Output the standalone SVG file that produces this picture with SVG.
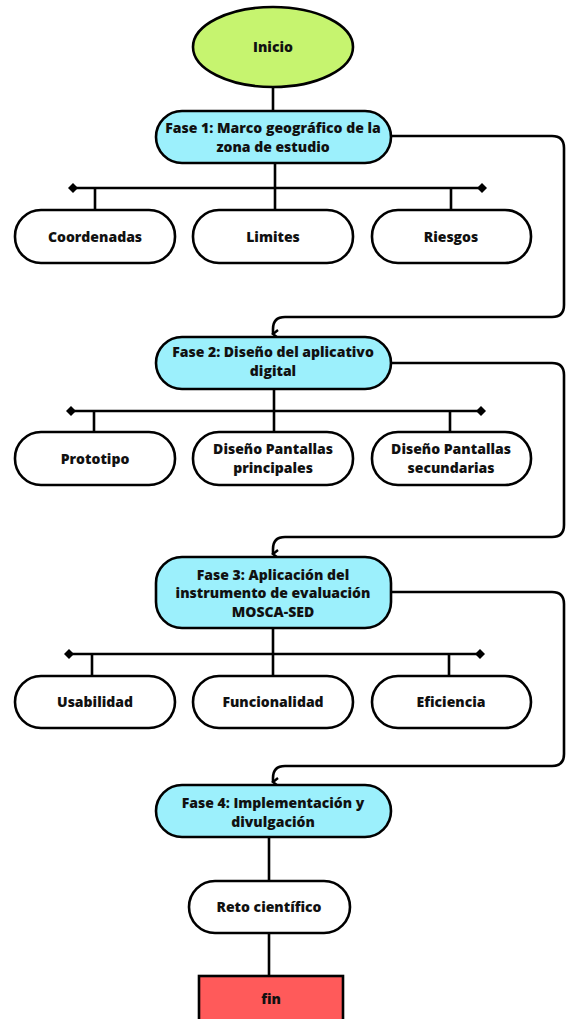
<svg xmlns="http://www.w3.org/2000/svg" width="566" height="1019" viewBox="0 0 566 1019">
<style>
.n{stroke:#000;stroke-width:2.6}
.w{fill:#fff}
.c{fill:#9cf0fc}
.t{font-family:"Open Sans","Liberation Sans",sans-serif;font-weight:800;font-size:14px;fill:#111;text-anchor:middle}
.l{fill:none;stroke:#000;stroke-width:2.6}
</style>
<defs>
<marker id="ar" viewBox="0 0 10 10" refX="5" refY="8" markerWidth="10" markerHeight="10" markerUnits="userSpaceOnUse" orient="auto-start-reverse">
<path d="M1,3 L5,8 L9,3" fill="none" stroke="#000" stroke-width="2.4"/>
</marker>
<marker id="dm" viewBox="0 0 12 12" refX="6" refY="6" markerWidth="12" markerHeight="12" markerUnits="userSpaceOnUse">
<path d="M6,1 L11,6 L6,11 L1,6 Z" fill="#000"/>
</marker>
</defs>
<rect width="566" height="1019" fill="#fff"/>
<g id="connectors">
<path class="l" d="M273,87 V111"/>
<path class="l" d="M275,163 V210"/>
<path class="l" d="M73,188 H482" marker-start="url(#dm)" marker-end="url(#dm)"/>
<path class="l" d="M95,188 V210 M451,188 V210"/>
<path class="l" d="M391,136 H552 Q564,136 564,148 V305 Q564,317 552,317 H285 Q273,317 273,329 V334" marker-end="url(#ar)"/>
<path class="l" d="M274,389 V432"/>
<path class="l" d="M71,411 H481" marker-start="url(#dm)" marker-end="url(#dm)"/>
<path class="l" d="M94,411 V432 M450,411 V432"/>
<path class="l" d="M391,363 H552 Q564,363 564,375 V525 Q564,537 552,537 H285 Q273,537 273,549 V554" marker-end="url(#ar)"/>
<path class="l" d="M273,628 V676"/>
<path class="l" d="M69,654 H480" marker-start="url(#dm)" marker-end="url(#dm)"/>
<path class="l" d="M92,654 V676 M449,654 V676"/>
<path class="l" d="M391,592 H552 Q564,592 564,604 V754 Q564,766 552,766 H285 Q273,766 273,778 V782" marker-end="url(#ar)"/>
<path class="l" d="M269,837 V881"/>
<path class="l" d="M269,933 V976"/>
</g>
<g id="inicio">
<ellipse class="n" cx="273" cy="47" rx="80" ry="40" fill="#c6f46f"/>
<text class="t" x="273" y="52">Inicio</text>
</g>
<g id="fase1">
<rect class="n c" x="156" y="111" width="235" height="52" rx="26"/>
<text class="t" x="273" y="133">Fase 1: Marco geográfico de la</text>
<text class="t" x="273" y="152">zona de estudio</text>
</g>
<g id="coordenadas">
<rect class="n w" x="15" y="210" width="160" height="53" rx="26"/>
<text class="t" x="95" y="242">Coordenadas</text>
</g>
<g id="limites">
<rect class="n w" x="193" y="210" width="160" height="53" rx="26"/>
<text class="t" x="273" y="242">Limites</text>
</g>
<g id="riesgos">
<rect class="n w" x="372" y="210" width="159" height="53" rx="26"/>
<text class="t" x="451" y="242">Riesgos</text>
</g>
<g id="fase2">
<rect class="n c" x="156" y="337" width="235" height="52" rx="26"/>
<text class="t" x="273" y="357">Fase 2: Diseño del aplicativo</text>
<text class="t" x="273" y="376">digital</text>
</g>
<g id="prototipo">
<rect class="n w" x="15" y="432" width="160" height="53" rx="26"/>
<text class="t" x="95" y="464">Prototipo</text>
</g>
<g id="principales">
<rect class="n w" x="193" y="432" width="160" height="53" rx="26"/>
<text class="t" x="273" y="454">Diseño Pantallas</text>
<text class="t" x="273" y="473">principales</text>
</g>
<g id="secundarias">
<rect class="n w" x="372" y="432" width="159" height="53" rx="26"/>
<text class="t" x="451" y="454">Diseño Pantallas</text>
<text class="t" x="451" y="473">secundarias</text>
</g>
<g id="fase3">
<rect class="n c" x="156" y="557" width="235" height="71" rx="26"/>
<text class="t" x="273" y="580">Fase 3: Aplicación del</text>
<text class="t" x="273" y="598">instrumento de evaluación</text>
<text class="t" x="273" y="617">MOSCA-SED</text>
</g>
<g id="usabilidad">
<rect class="n w" x="15" y="676" width="160" height="52" rx="26"/>
<text class="t" x="95" y="707">Usabilidad</text>
</g>
<g id="funcionalidad">
<rect class="n w" x="193" y="676" width="160" height="52" rx="26"/>
<text class="t" x="273" y="707">Funcionalidad</text>
</g>
<g id="eficiencia">
<rect class="n w" x="372" y="676" width="159" height="52" rx="26"/>
<text class="t" x="451" y="707">Eficiencia</text>
</g>
<g id="fase4">
<rect class="n c" x="156" y="785" width="235" height="52" rx="26"/>
<text class="t" x="273" y="808">Fase 4: Implementación y</text>
<text class="t" x="273" y="827">divulgación</text>
</g>
<g id="reto">
<rect class="n w" x="189" y="881" width="161" height="52" rx="26"/>
<text class="t" x="269" y="912">Reto científico</text>
</g>
<g id="fin">
<rect class="n" x="199" y="976" width="144" height="60" fill="#ff5a5a"/>
<text class="t" x="271" y="1004">fin</text>
</g>
</svg>
